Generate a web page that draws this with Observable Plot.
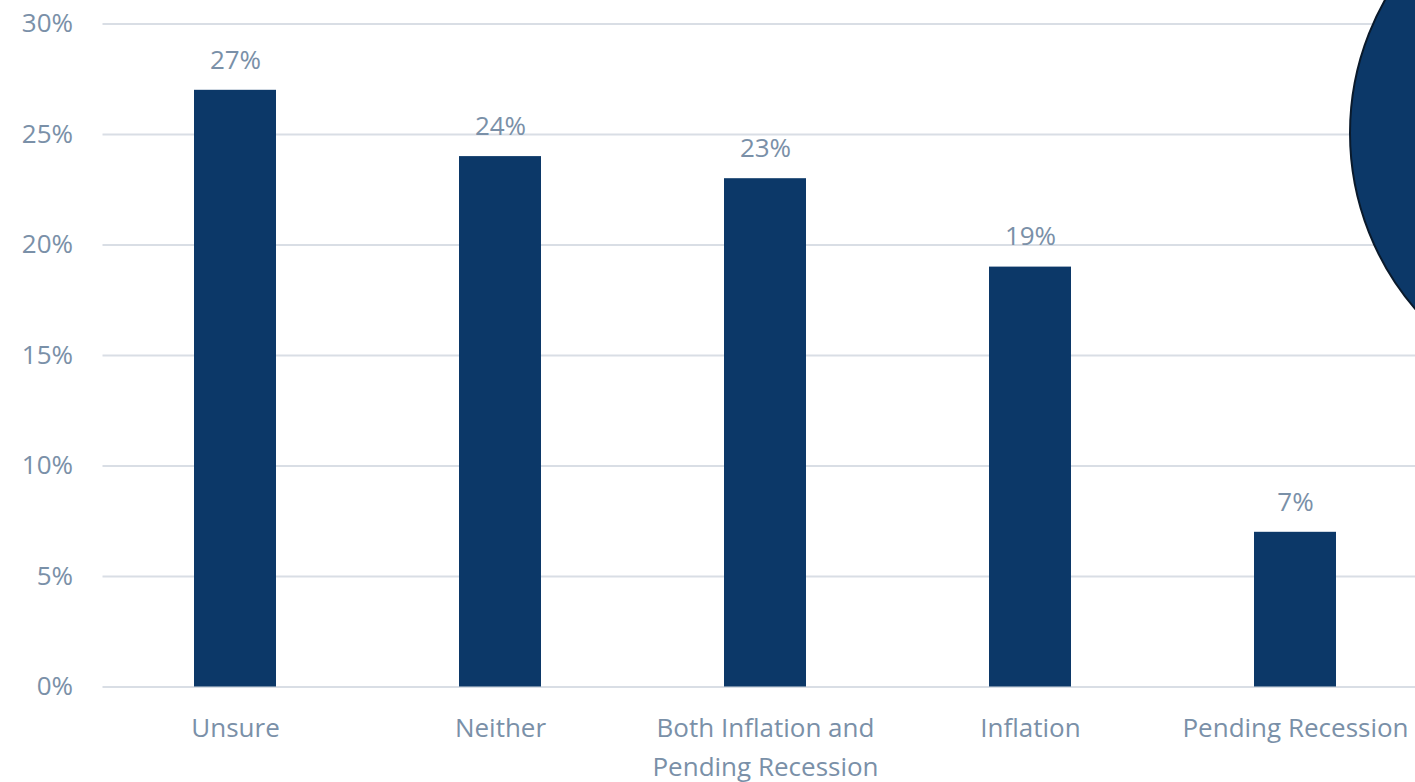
<!DOCTYPE html>
<html>
<head>
<meta charset="utf-8">
<script src="https://cdn.jsdelivr.net/npm/d3@7"></script>
<script src="https://cdn.jsdelivr.net/npm/@observablehq/plot@0.6"></script>
<style>
  html, body { margin: 0; padding: 0; background: #fff; overflow: hidden; }
  #chart svg { display: block; }
</style>
</head>
<body>
<div id="chart"></div>
<script>
const categories = ["Unsure", "Neither", "Both Inflation and Pending Recession", "Inflation", "Pending Recession"];
const categoryLabels = ["Unsure", "Neither", "Both Inflation and\nPending Recession", "Inflation", "Pending Recession"];
const values = [0.27, 0.24, 0.23, 0.19, 0.07];
const yTicks = [0, 0.05, 0.10, 0.15, 0.20, 0.25, 0.30];

const data = categories.map((c, i) => ({category: c, value: values[i]}));
const labelOf = new Map(categories.map((c, i) => [c, categoryLabels[i]]));

const textColor = "#7a90a8";
const barColor = "#0c3868";
const font = "'Open Sans', sans-serif";

const W = 1415, H = 782;
const plot = Plot.plot({
  width: W,
  height: H,
  marginTop: 23.5,
  marginBottom: 95.5,
  marginLeft: 102.5,
  marginRight: -12.5,
  style: {fontFamily: font, fontSize: "26px", color: textColor, background: "#fff"},
  x: {domain: categories, paddingInner: 0.69, paddingOuter: 0.345, label: null},
  y: {domain: [0, 0.30], label: null},
  marks: [
    Plot.ruleY(yTicks, {stroke: "#d9dee5", strokeWidth: 2}),
    Plot.barY(data, {x: "category", y: "value", fill: barColor}),
    Plot.text(data, {x: "category", y: "value", text: d => d3.format(".0%")(d.value), dy: -30, fill: textColor, fontSize: 26}),
    Plot.axisY(yTicks, {tickSize: 0, tickPadding: 0, dx: -30, tickFormat: d3.format(".0%"), fill: textColor, fontSize: 26, label: null}),
    Plot.axisX({tickSize: 0, tickPadding: 22, tickFormat: d => labelOf.get(d), fill: textColor, fontSize: 26, lineHeight: 1.5, label: null})
  ]
});
document.getElementById("chart").appendChild(plot);

// decorative circle partially visible at the top-right corner
d3.select(plot).append("circle")
  .attr("cx", 1620).attr("cy", 133).attr("r", 270)
  .attr("fill", barColor).attr("stroke", "#0a1a2c").attr("stroke-width", 2);
</script>
</body>
</html>
